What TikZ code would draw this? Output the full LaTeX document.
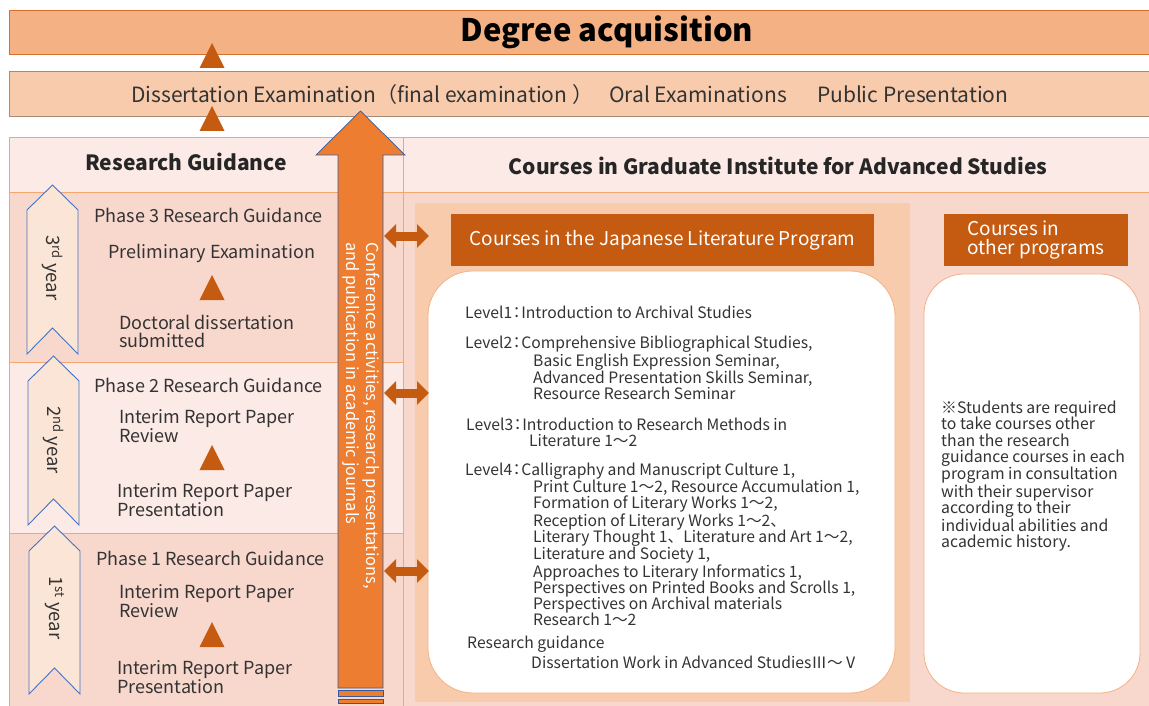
\documentclass[tikz,border=0pt]{standalone}
\usepackage{fontspec}
\setmainfont{Noto Sans CJK JP}
\usepackage{tikz}
\usetikzlibrary{arrows.meta,positioning}

\definecolor{degfill}{HTML}{F4B183}
\definecolor{degline}{HTML}{D86F2E}
\definecolor{examfill}{HTML}{F8CBAD}
\definecolor{examline}{HTML}{A88A78}
\definecolor{rowpale}{HTML}{FBEAE5}
\definecolor{rowdeep}{HTML}{F8D8CD}
\definecolor{gridline}{HTML}{F4A66F}
\definecolor{panelfill}{HTML}{F8CBAD}
\definecolor{darkor}{HTML}{C55A11}
\definecolor{bigor}{HTML}{ED7D31}
\definecolor{chevfill}{HTML}{FBE5D6}
\definecolor{chevline}{HTML}{4472C4}
\definecolor{ink}{HTML}{333333}

\newcommand{\fsz}[2]{\fontsize{#1}{#2}\selectfont}
% narrow colon after the level numbers
\newcommand{\lvcolon}{\makebox[9pt][c]{：}}
% small up-triangle marker, apex at (#1,#2)
\newcommand{\uptri}[2]{\fill[darkor] (#1,#2) -- ++(12.5,25) -- ++(-25,0) -- cycle;}
% year chevron: left x, apex y, bottom y
\newcommand{\yearchev}[3]{%
  \draw[chev] (#1,#2+25) -- (#1+25.5,#2) -- (#1+51,#2+25) -- (#1+51,#3)
    -- (#1+25.5,#3-26) -- (#1,#3) -- cycle;}

\begin{document}
\begin{tikzpicture}[x=1pt, y=-1pt,
  band/.style={draw, line width=0.8pt, inner sep=0pt},
  grid/.style={draw=gridline, line width=0.8pt},
  head/.style={font=\bfseries\fsz{21}{24}, text=black!85},
  phase/.style={font=\fsz{18}{18}, text=ink, anchor=west, inner sep=0pt},
  twoline/.style={phase, align=left},
  lvl/.style={font=\fsz{15.7}{16.2}, text=ink, anchor=west, align=left,
    inner sep=0pt},
  hdrbox/.style={fill=darkor, text=white, font=\fsz{19}{19.5},
    inner sep=0pt},
  whitebox/.style={draw=degfill, fill=white, line width=0.8pt},
  chev/.style={draw=chevline, fill=chevfill, line width=0.9pt},
  yr/.style={font=\fsz{18.5}{19}, text=ink, rotate=-90, inner sep=0pt},
  bigarrow/.style={draw=chevline!80!black, fill=bigor, line width=0.7pt},
  link/.style={darkor, line width=9pt,
    {Triangle[width=23pt,length=12pt]}-{Triangle[width=23pt,length=12pt]}},
]
\useasboundingbox (0,0) rectangle (1149,706);

% Top bands
\node[band, draw=degline, fill=degfill, minimum width=1142, minimum height=44]
  (degree) at (580,32) {};
\node[font=\bfseries\fsz{31}{34}, inner sep=0pt] (degtxt) at (607,32)
  {Degree acquisition};
\node[band, draw=examline, fill=examfill, minimum width=1142,
  minimum height=45] (exam) at (580,93.5) {};
\node[font=\fsz{21}{22}, text=ink, anchor=west, inner sep=0pt] (examtxt)
  at (131,95) {Dissertation Examination（final examination ）\hspace{16pt}Oral Examinations\hspace{30pt}Public Presentation};
\uptri{212}{43}
\uptri{212}{106}

% Table cells
\draw[grid, fill=rowpale] (9,137) rectangle (403,192);
\draw[grid, fill=rowpale] (403,137) rectangle (1151,192);
\draw[grid, fill=rowdeep] (9,192) rectangle (403,362);
\draw[grid, fill=rowpale] (9,362) rectangle (403,533);
\draw[grid, fill=rowdeep] (9,533) rectangle (403,708);
\draw[grid, fill=rowdeep] (403,192) rectangle (1151,708);

% Column headers
\node[head] (rg) at (186,162) {Research Guidance};
\node[head] (gias) at (778,166) {Courses in Graduate Institute for Advanced Studies};

% Course panels
\fill[panelfill] (415,203) rectangle (910,702);
\node[hdrbox, minimum width=423, minimum height=52] (jphead) at (662.5,240)
  {Courses in the Japanese Literature Program};
\node[hdrbox, minimum width=184, minimum height=52, align=left] (othhead)
  at (1036,240) {Courses in\\other programs};
\draw[whitebox, rounded corners=45] (428,271) rectangle (895,693);
\draw[whitebox, rounded corners=40] (924,274) rectangle (1140,693);

% Course levels
\def\lvind{\hspace*{68pt}}
\node[lvl] (lv1) at (465,312) {Level1\lvcolon Introduction to Archival Studies};
\node[lvl] (lv2) at (465,368) {Level2\lvcolon Comprehensive Bibliographical Studies,\\
  \lvind Basic English Expression Seminar,\\
  \lvind Advanced Presentation Skills Seminar,\\
  \lvind Resource Research Seminar};
\node[lvl] (lv3) at (466,432) {Level3\lvcolon Introduction to Research Methods in\\
  \hspace*{63pt}Literature 1～2};
\node[lvl] (lv4) at (465,544.5) {Level4\lvcolon Calligraphy and Manuscript Culture 1,\\
  \lvind Print Culture 1～2, Resource Accumulation 1,\\
  \lvind Formation of Literary Works 1～2,\\
  \lvind Reception of Literary Works 1～2、\\
  \lvind Literary Thought 1、Literature and Art 1～2,\\
  \lvind Literature and Society 1,\\
  \lvind Approaches to Literary Informatics 1,\\
  \lvind Perspectives on Printed Books and Scrolls 1,\\
  \lvind Perspectives on Archival materials\\
  \lvind Research 1～2};
\node[lvl, font=\fsz{15.7}{20}] (rgd) at (467,652) {Research guidance\\
  \hspace*{64pt}Dissertation Work in Advanced StudiesⅢ～Ⅴ};

% Other programs note
\node[lvl, font=\fsz{15.8}{16.25}] (note) at (941,476)
  {※Students are required\\to take courses other\\than the research\\
   guidance courses in each\\program in consultation\\with their supervisor\\
   according to their\\individual abilities and\\academic history.};

% Big arrow
\draw[bigarrow] (338,688) -- (338,155) -- (316,155) -- (360.5,111)
  -- (405,155) -- (383,155) -- (383,688) -- cycle;
\draw[bigarrow] (338,690) rectangle (383,696);
\draw[bigarrow] (338,699) rectangle (383,703);
\node[yr, text=white, font=\fsz{16.4}{20}, align=left, anchor=west] (conf)
  at (361,242) {Conference activities, research presentations,\\
  and publication in academic journals};

% Links to course panel
\coordinate (s3) at (384,236); \coordinate (p3) at (429,236);
\coordinate (s2) at (384,393); \coordinate (p2) at (429,393);
\coordinate (s1) at (384,571); \coordinate (p1) at (429,571);
\draw[link] (s3) -- (p3);
\draw[link] (s2) -- (p2);
\draw[link] (s1) -- (p1);

% 3rd year
\yearchev{27}{185}{354}
\node[yr] (y3) at (52.5,268) {3\textsuperscript{rd} year};
\node[phase] (ph3) at (94,215) {Phase 3 Research Guidance};
\node[phase] (prelim) at (108,253) {Preliminary Examination};
\uptri{212}{275}
\node[twoline] (sub3) at (119,331) {Doctoral dissertation\\submitted};

% 2nd year
\yearchev{28}{356}{525}
\node[yr] (y2) at (53.5,440) {2\textsuperscript{nd} year};
\node[phase] (ph2) at (94,385) {Phase 2 Research Guidance};
\node[twoline] (rev2) at (119,426) {Interim Report Paper\\Review};
\uptri{212}{445}
\node[twoline] (pres2) at (117,500) {Interim Report Paper\\Presentation};

% 1st year
\yearchev{29}{526}{694}
\node[yr] (y1) at (54.5,608) {1\textsuperscript{st} year};
\node[phase] (ph1) at (96,558) {Phase 1 Research Guidance};
\node[twoline] (rev1) at (119,601) {Interim Report Paper\\Review};
\uptri{212}{622}
\node[twoline] (pres1) at (117,677) {Interim Report Paper\\Presentation};

\end{tikzpicture}
\end{document}
